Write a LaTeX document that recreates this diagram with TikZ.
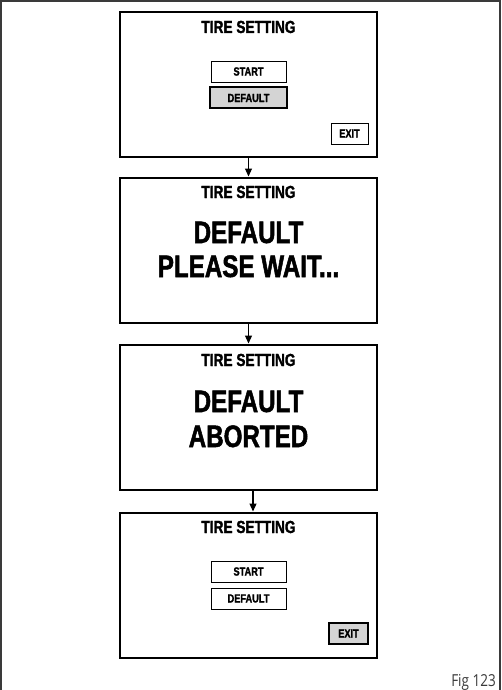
\documentclass[tikz,border=0pt]{standalone}
\usepackage{fontspec}
\setmainfont{Liberation Sans}[FakeStretch=0.78, BoldFeatures={FakeBold=1.6}]
\newfontfamily\figfont{Open Sans}[FakeStretch=0.82]
\usetikzlibrary{arrows.meta}
\definecolor{btngray}{HTML}{D4D4D4}
\definecolor{framegray}{HTML}{3A3A3A}
\tikzset{
  screen/.style={draw, line width=2pt, minimum width=257pt, minimum height=145pt, inner sep=0pt},
  titletext/.style={font=\bfseries\fontsize{17.5}{20}\selectfont, anchor=base, inner sep=0pt},
  bigtext/.style={font=\bfseries\fontsize{31}{34}\selectfont, anchor=base, inner sep=0pt},
  btn/.style={draw, line width=0.9pt, minimum height=21pt, inner sep=0pt, font=\bfseries\fontsize{11.8}{13}\selectfont},
  btnsel/.style={btn, fill=btngray, line width=2pt},
  flow/.style={line width=1.2pt, -{Triangle[length=8pt,width=7pt]}},
}
\begin{document}
\begin{tikzpicture}[x=1pt,y=-1pt]
\useasboundingbox (0,0) rectangle (502,690);
\draw[line width=2pt, framegray] (1,690) -- (1,1) -- (500,1) -- (500,690);
% screens
\node[screen] (s1) at (248.5,84.5) {};
\node[screen] (s2) at (248.5,250) {};
\node[screen] (s3) at (248.5,417) {};
\node[screen] (s4) at (248.5,585) {};
% screen 1
\node[titletext] (t1) at (248.5,33) {TIRE SETTING};
\node[btn, minimum width=75pt] (b1s) at (248.5,71.5) {START};
\node[btnsel, minimum width=77pt] (b1d) at (248.5,98) {DEFAULT};
\node[btn, minimum width=37pt] (b1e) at (349.5,133.5) {EXIT};
% screen 2
\node[titletext] (t2) at (248.5,198) {TIRE SETTING};
\node[bigtext] (m2a) at (248.5,243) {DEFAULT};
\node[bigtext] (m2b) at (248.5,277) {PLEASE WAIT...};
% screen 3
\node[titletext] (t3) at (248.5,366) {TIRE SETTING};
\node[bigtext] (m3a) at (248.5,412) {DEFAULT};
\node[bigtext] (m3b) at (248.5,447) {ABORTED};
% screen 4
\node[titletext] (t4) at (248.5,533) {TIRE SETTING};
\node[btn, minimum width=75pt] (b4s) at (248.5,571.5) {START};
\node[btn, minimum width=75pt] (b4d) at (248.5,598.5) {DEFAULT};
\node[btnsel, minimum width=39pt] (b4e) at (348.5,633.5) {EXIT};
% arrows
\draw[flow] (s1.south) -- (s2.north);
\draw[flow] (s2.south) -- (s3.north);
\draw[flow] ([xshift=4.5pt]s3.south) -- ([xshift=4.5pt]s4.north);
% figure label
\node[font=\figfont\fontsize{16.5}{18}\selectfont, text=framegray, anchor=base east, inner sep=0pt] (fig) at (496,686) {Fig 123};
\end{tikzpicture}
\end{document}
